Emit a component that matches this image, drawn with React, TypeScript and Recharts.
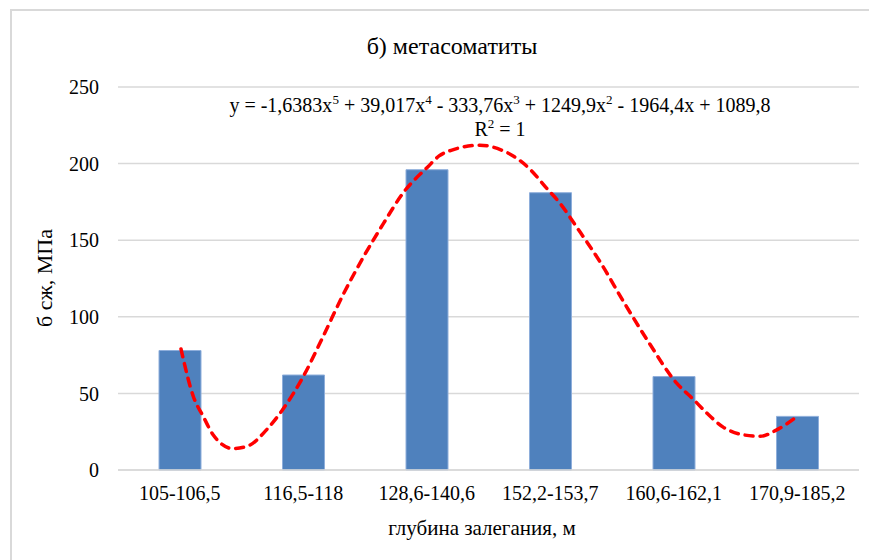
import { ComposedChart, Bar, Line, XAxis, YAxis, CartesianGrid } from "recharts";

// глубина залегания (интервалы, м)
const depths = ["105-106,5", "116,5-118", "128,6-140,6", "152,2-153,7", "160,6-162,1", "170,9-185,2"];
// σ сж, МПа
const strength = [78, 62, 196, 181, 61, 35];
const yTicks = [0, 50, 100, 150, 200, 250];

// trendline points (x = category position 1..6)
const trendX = [1.01, 1.11, 1.19, 1.27, 1.43, 1.56, 1.7, 1.83, 2.0, 2.16, 2.32, 2.48, 2.65, 2.81, 3.01, 3.1, 3.21, 3.43, 3.6, 3.7, 3.84, 3.97, 4.08, 4.21, 4.41, 4.6, 4.8, 5.02, 5.16, 5.27, 5.4, 5.56, 5.7, 5.83, 6.0];
const trendY = [79, 48, 35, 23, 14, 16, 26, 39, 61, 87, 114, 138, 161, 181, 198, 205, 209, 212, 209, 205, 196, 184, 174, 159, 135, 109, 83, 57, 46, 37, 28, 23, 22, 26, 35];

const barData = depths.map((d, i) => ({ name: d, value: strength[i] }));
const trendData = trendX.map((x, i) => ({ x, y: trendY[i] }));

const FONT = "Liberation Serif";
const SUP = { dy: -8, fontSize: 13 };

export default function App() {
  return (
    <div style={{ position: "absolute", left: 0, top: 0, width: 869, height: 560, overflow: "hidden", background: "#fff" }}>
      <div style={{ position: "absolute", left: 10, top: 9, width: 900, height: 600, borderLeft: "2px solid #d9d9d9", borderTop: "2px solid #d9d9d9" }} />
      <ComposedChart width={869} height={560} data={barData} margin={{ top: 87, right: 10, bottom: 0, left: 18 }}>
        <CartesianGrid vertical={false} stroke="#d9d9d9" strokeWidth={1.5} />
        <XAxis
          xAxisId="cat"
          dataKey="name"
          height={90}
          tickLine={false}
          tickSize={0}
          tickMargin={16}
          axisLine={{ stroke: "#d9d9d9", strokeWidth: 1.5 }}
          tick={{ fontFamily: FONT, fontSize: 20, fill: "#000" }}
          interval={0}
        />
        <XAxis xAxisId="num" dataKey="x" type="number" domain={[0.5, 6.5]} hide allowDataOverflow />
        <YAxis
          width={100}
          domain={[0, 250]}
          ticks={yTicks}
          axisLine={false}
          tickLine={false}
          tickSize={0}
          tickMargin={19}
          tick={{ fontFamily: FONT, fontSize: 20, fill: "#000" }}
        />
        <Bar xAxisId="cat" dataKey="value" fill="#4f81bd" stroke="#8eaedb" strokeWidth={1} barSize={42} isAnimationActive={false} />
        <Line
          xAxisId="num"
          data={trendData}
          dataKey="y"
          type="monotone"
          stroke="#ff0000"
          strokeWidth={3.5}
          strokeDasharray="8 7"
          strokeLinecap="round"
          dot={false}
          activeDot={false}
          isAnimationActive={false}
        />
      </ComposedChart>
      <svg width={869} height={560} style={{ position: "absolute", left: 0, top: 0, pointerEvents: "none" }}>
        <g fontFamily={FONT} fill="#000">
          <text x={452} y={54} fontSize={24} textAnchor="middle">б) метасоматиты</text>
          <text x={500} y={112} fontSize={20} textAnchor="middle">
            y = -1,6383x<tspan {...SUP}>5</tspan>
            <tspan dy={8}> + 39,017x</tspan><tspan {...SUP}>4</tspan>
            <tspan dy={8}> - 333,76x</tspan><tspan {...SUP}>3</tspan>
            <tspan dy={8}> + 1249,9x</tspan><tspan {...SUP}>2</tspan>
            <tspan dy={8}> - 1964,4x + 1089,8</tspan>
          </text>
          <text x={500} y={136} fontSize={20} textAnchor="middle">
            R<tspan {...SUP}>2</tspan><tspan dy={8}> = 1</tspan>
          </text>
          <text x={482} y={535} fontSize={21} textAnchor="middle">глубина залегания, м</text>
          <text x={52} y={278} fontSize={22} textAnchor="middle" transform="rotate(-90 52 278)">б сж, МПа</text>
        </g>
      </svg>
    </div>
  );
}
